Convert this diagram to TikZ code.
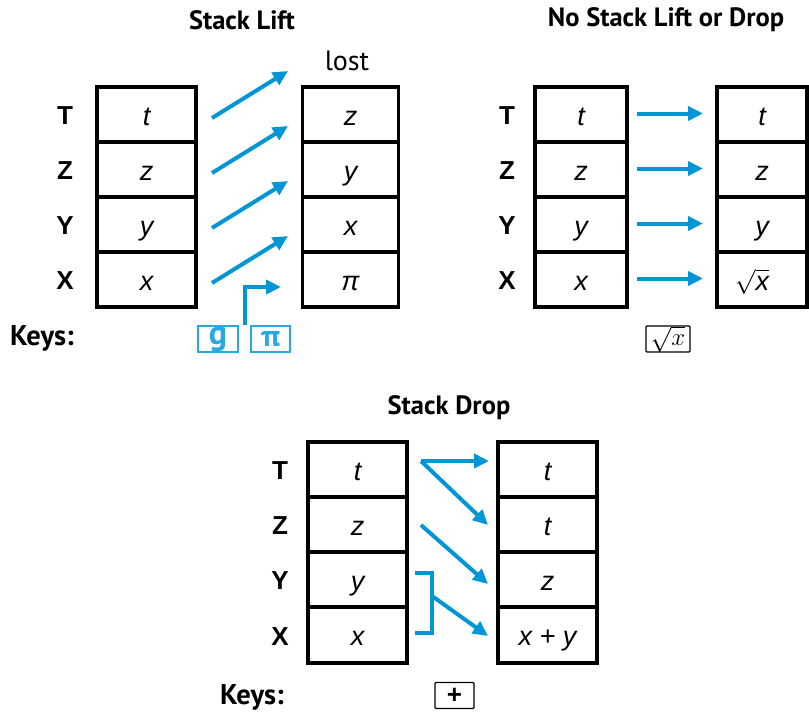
\documentclass[tikz,border=0pt]{standalone}
\usepackage{fontspec}
\setmainfont{Liberation Sans}
\newfontfamily\hpfont{PT Sans}
\usetikzlibrary{arrows.meta}
\definecolor{hpblue}{HTML}{0096D6}
\definecolor{keyblue}{HTML}{29A9E1}
\tikzset{
  cell/.style={draw, line width=3.6pt, minimum height=55pt, inner sep=0pt, outer sep=0pt,
    text height=21pt, text depth=0pt, font=\fontsize{27}{27}\selectfont\itshape},
  reglabel/.style={font=\fontsize{26}{26}\selectfont\bfseries},
  ttl/.style={font=\hpfont\fontsize{26.5}{26.5}\selectfont\bfseries},
  keyslbl/.style={font=\hpfont\fontsize{28.5}{28.5}\selectfont\bfseries},
  lostlbl/.style={font=\hpfont\fontsize{28}{28}\selectfont},
  arr/.style={hpblue, line width=4pt, -{Triangle[length=15pt,width=14pt]}},
  bracketline/.style={hpblue, line width=4pt},
  bluekey/.style={draw=keyblue, line width=1.6pt, text=keyblue, minimum width=40pt,
    minimum height=26pt, inner sep=0pt},
  blackkey/.style={draw, line width=1.3pt, rounded corners=1pt, minimum height=26pt,
    inner sep=0pt}
}
\begin{document}
\begin{tikzpicture}[x=1pt, y=-1pt]
\useasboundingbox (0,0) rectangle (809,712);

% ---------- Stack Lift ----------
\node[ttl] (t1) at (242,20) {Stack Lift};
\node[lostlbl] (lost) at (347,61) {lost};
\foreach \n/\l/\y in {1/T/116, 2/Z/171, 3/Y/226, 4/X/281}
  \node[reglabel] (la\n) at (65,\y) {\l};
\node[cell, minimum width=99pt] (a1) at (146.5,114.5) {t};
\node[cell, minimum width=99pt] (a2) at (146.5,169.5) {z};
\node[cell, minimum width=99pt] (a3) at (146.5,224.5) {y};
\node[cell, minimum width=99pt] (a4) at (146.5,279.5) {x};
\node[cell, minimum width=96pt] (b1) at (350.5,114.5) {z};
\node[cell, minimum width=96pt] (b2) at (350.5,169.5) {y};
\node[cell, minimum width=96pt] (b3) at (350.5,224.5) {x};
\node[cell, minimum width=96pt] (b4) at (350.5,279.5) {π};
\foreach \k in {0,1,2,3}{
  \coordinate (ls\k) at (212,{118+55*\k});
  \coordinate (le\k) at (288,{71+55*\k});
  \draw[arr] (ls\k) -- (le\k);
}
\node[keyslbl] (keys1) at (42,338) {Keys:};
\node[bluekey, font=\hpfont\fontsize{34}{34}\selectfont\bfseries] (kg) at (218,339) {\raisebox{4pt}{g}};
\node[bluekey, minimum width=39pt, font=\hpfont\fontsize{30}{30}\selectfont\bfseries] (kpi) at (270.5,339) {π};
\coordinate (pb) at (245,287);
\coordinate (pe) at (281,287);
\draw[arr] (kg.north -| pb) -- (pb) -- (pe);

% ---------- No Stack Lift or Drop ----------
\node[ttl] (t2) at (666,20) {No Stack Lift or Drop};
\foreach \n/\l/\y in {1/T/116, 2/Z/171, 3/Y/226, 4/X/281}
  \node[reglabel] (lc\n) at (507,\y) {\l};
\node[cell, minimum width=92pt] (c1) at (581,114.5) {t};
\node[cell, minimum width=92pt] (c2) at (581,169.5) {z};
\node[cell, minimum width=92pt] (c3) at (581,224.5) {y};
\node[cell, minimum width=92pt] (c4) at (581,279.5) {x};
\node[cell, minimum width=90pt] (d1) at (762,114.5) {t};
\node[cell, minimum width=90pt] (d2) at (762,169.5) {z};
\node[cell, minimum width=90pt] (d3) at (762,224.5) {y};
\node[cell, minimum width=90pt] (d4) at (762,279.5) {\kern-20pt$\sqrt{\mbox{\itshape x}}$};
\foreach \k in {1,2,3,4}
  \draw[arr] ([xshift=10pt,yshift=1pt]c\k.east) -- ([xshift=-14pt,yshift=1pt]d\k.west);
\node[blackkey, minimum width=44pt, font=\fontsize{25}{25}\selectfont] (ksq) at (668,339) {$\sqrt{x}$};

% ---------- Stack Drop ----------
\node[ttl] (t3) at (449,408) {Stack Drop};
\foreach \n/\l/\y in {1/T/471, 2/Z/526, 3/Y/581, 4/X/636.5}
  \node[reglabel] (le\n) at (280,\y) {\l};
\node[cell, minimum width=99pt] (e1) at (357.5,469.5) {t};
\node[cell, minimum width=99pt] (e2) at (357.5,524.5) {z};
\node[cell, minimum width=99pt] (e3) at (357.5,579.5) {y};
\node[cell, minimum width=99pt, minimum height=56pt] (e4) at (357.5,635) {x};
\node[cell, minimum width=99pt] (f1) at (547.5,469.5) {t};
\node[cell, minimum width=99pt] (f2) at (547.5,524.5) {t};
\node[cell, minimum width=99pt] (f3) at (547.5,579.5) {z};
\node[cell, minimum width=99pt, minimum height=56pt] (f4) at (547.5,635) {x + y};
\coordinate (ds1) at (421,461);
\coordinate (de1) at (489,461);
\coordinate (de2) at (488,525);
\coordinate (ds3) at (421,525);
\coordinate (de3) at (488,584);
\coordinate (bt) at (415,573);
\coordinate (bb) at (415,633);
\coordinate (bm) at (432,596);
\coordinate (de4) at (488,636);
\draw[arr] (ds1) -- (de1);
\draw[arr] (ds1) -- (de2);
\draw[arr] (ds3) -- (de3);
\draw[bracketline] (bt) -- ++(17,0) |- (bb);
\draw[arr] (bm) -- (de4);
\node[keyslbl] (keys2) at (252,697) {Keys:};
\node[blackkey, minimum width=39pt, font=\fontsize{26}{26}\selectfont\bfseries] (kplus) at (454.5,695.5) {+};
\end{tikzpicture}
\end{document}
